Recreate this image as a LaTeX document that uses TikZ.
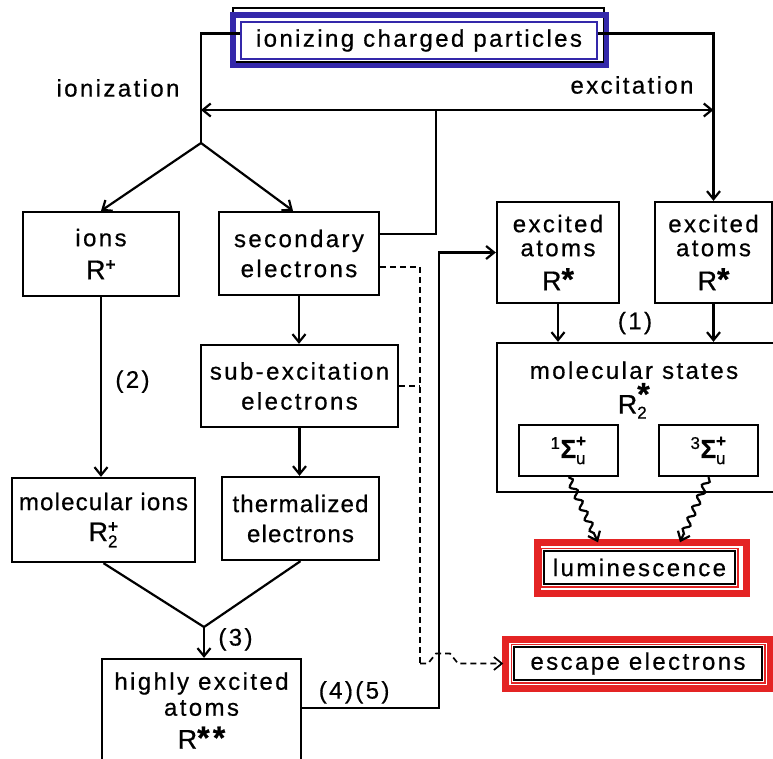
\documentclass[tikz,border=0pt]{standalone}
\usepackage{fontspec}
\setmainfont{Liberation Sans}[LetterSpace=10, FakeBold=0.6]
\usetikzlibrary{arrows.meta,decorations.pathmorphing}
\definecolor{frameblue}{RGB}{52,40,170}
\definecolor{framered}{RGB}{228,36,36}
\newcommand\supfont{\fontsize{17}{17}\selectfont}
\newcommand\bigR{{\fontsize{27}{27}\selectfont R}}
\newcommand\starfont{\fontsize{32}{32}\selectfont\bfseries}
\newcommand\Rplus{\bigR$^{\mbox{\supfont\bfseries +}}$}
\newcommand\Rtwo[1]{\bigR$_{\mbox{\supfont 2}}^{\mbox{#1}}$}
\newcommand\Rstar{\bigR{\starfont *}}
\newcommand\Sstate[1]{$^{\mbox{\supfont #1}}\mbox{\fontsize{26}{26}\selectfont\bfseries Σ}_{\mbox{\supfont u}}^{\mbox{\supfont\bfseries +}}$}
\tikzset{
	box/.style={draw, line width=2.3pt, align=center, inner sep=0pt},
	narrow/.style={font=\fontsize{24}{30}\selectfont\addfontfeatures{LetterSpace=5}},
	conn/.style={line width=2.2pt},
	dashconn/.style={line width=1.7pt, dash pattern=on 6pt off 4pt},
	>={Straight Barb[length=8pt,width=13pt]},
}

\begin{document}
\begin{tikzpicture}[x=1pt, y=-1pt, font=\fontsize{24}{30}\selectfont]
		%%%%% START %%%%%
		\useasboundingbox (0,0) rectangle (773,758);
		
		\node[box, draw=frameblue, line width=1.5pt, minimum width=356, minimum height=37] (src) at (419,40.5) {ionizing charged particles};
		\draw[line width=1.6pt] ([shift={(-7,-13)}]src.north west) rectangle ([shift={(6,2)}]src.south east);
		\draw[frameblue, line width=5.5pt] ([shift={(-7.5,-6.5)}]src.north west) rectangle ([shift={(8.5,5.5)}]src.south east);
		
		\node (lion) at (118,88) {ionization};
		\node (lexc) at (632,85) {excitation};
		
		\node[box, minimum width=156, minimum height=84] (ions) at (101,254) {ions\\[3pt] \Rplus};
		\node[box, minimum width=160, minimum height=83] (sec) at (299,253.5) {secondary\\ electrons};
		\node[box, minimum width=197, minimum height=82] (sub) at (299.5,386) {sub-excitation\\ electrons};
		\node[box, narrow, minimum width=183, minimum height=84] (molion) at (103.5,520) {molecular ions\\[1pt] \Rtwo{\supfont\bfseries +}};
		\node[box, narrow, minimum width=157, minimum height=83] (therm) at (300.5,518.5) {thermalized\\ electrons};
		\node[box, minimum width=199, minimum height=103] (hexc) at (201.5,710.5) {highly excited\\[-4pt] atoms\\[3pt] \bigR{\starfont **}};
		
		\node[box, minimum width=122, minimum height=101] (exc1) at (558,252.5) {excited\\[-6pt] atoms\\[4pt] \Rstar};
		\node[box, minimum width=117, minimum height=101] (exc2) at (713.5,252.5) {excited\\[-6pt] atoms\\[4pt] \Rstar};
		\node[box, minimum width=288, minimum height=149] (mol) at (641,417.5) {};
		\node[align=center] (moltxt) at (634,390) {molecular states\\[3pt] \Rtwo{\raisebox{-9pt}{\starfont *}}};
		\node[box, minimum width=99, minimum height=51] (sig1) at (568.5,450.5) {\Sstate{1}};
		\node[box, minimum width=99, minimum height=51] (sig2) at (708.5,450.5) {\Sstate{3}};
		\node (l1) at (635,323) {(1)};
		
		\node[box, line width=1.5pt, minimum width=191, minimum height=33] (lum) at (639.5,567.5) {luminescence};
		\draw[framered, line width=1.5pt] ([shift={(-2,-2)}]lum.north west) rectangle ([shift={(2,2)}]lum.south east);
		\draw[framered, line width=7pt] ([shift={(-5.5,-7.5)}]lum.north west) rectangle ([shift={(10.5,8.5)}]lum.south east);
		
		\node[box, line width=1.5pt, minimum width=248, minimum height=33] (esc) at (638,663.5) {escape electrons};
		\draw[framered, line width=1.5pt] ([shift={(-2,-2)}]esc.north west) rectangle ([shift={(2,2)}]esc.south east);
		\draw[framered, line width=7pt] ([shift={(-7.5,-6.5)}]esc.north west) rectangle ([shift={(7.5,7.5)}]esc.south east);
		
		% joints of the lines
		\coordinate (jl) at (201,110);
		\coordinate (jr) at (713.5,110);
		\coordinate (fb) at (436,110);
		\coordinate (fork) at (201,143);
		\coordinate (merge) at (204,627);
		\coordinate (rise) at (439,708);
		\coordinate (dl) at (420,663.5);
		
		\draw[conn] ([yshift=7pt]src.west) -| (fork);
		\draw[conn, ->] ([yshift=7pt]src.east) -| (exc2.north);
		\draw[conn, <->] (jl) -- (jr);
		\draw[conn] ([yshift=19.5pt]sec.east) -| (fb);
		\draw[conn, ->] (fork) -- (ions.north);
		\draw[conn, ->] (fork) -- ([xshift=-6pt]sec.north);
		
		\draw[conn, ->] (sec.south) -- (sec.south |- sub.north);
		\draw[conn, ->] (sub.south) -- (sub.south |- therm.north);
		\draw[conn, ->] (ions.south) -- node[pos=0.47, right=10pt] {(2)} (ions.south |- molion.north);
		
		\draw[conn] (molion.south) -- (merge);
		\draw[conn] (therm.south) -- (merge);
		\draw[conn, ->] (merge) -- node[pos=0.4, right=10pt] {(3)} (merge |- hexc.north);
		
		\draw[conn, ->] ([yshift=2.5pt]hexc.east) -- node[above, pos=0.38] {(4)(5)} (rise) |- (exc1.west);
		
		\draw[dashconn] ([yshift=-13.5pt]sec.east) -| (dl);
		\draw[dashconn] (sub.east) -- (sub.east -| dl);
		\draw[dashconn, ->] (dl) -- ++(8,0) -- ++(8,-10) -- ++(14,0) -- ++(8,10) -- ([xshift=-10pt]esc.west);
		
		\draw[conn, ->] (exc1.south) -- (exc1.south |- mol.north);
		\draw[conn, ->] (exc2.south) -- (exc2.south |- mol.north);
		
		\draw[conn, ->, decorate, decoration={snake, amplitude=3pt, segment length=12pt, post length=6pt}] (sig1.south) -- ([shift={(-41.5,-8)}]lum.north);
		\draw[conn, ->, decorate, decoration={snake, amplitude=3pt, segment length=12pt, post length=6pt}] (sig2.south) -- ([shift={(40.5,-8)}]lum.north);
		
		%%%%% END %%%%%
\end{tikzpicture}
\end{document}
